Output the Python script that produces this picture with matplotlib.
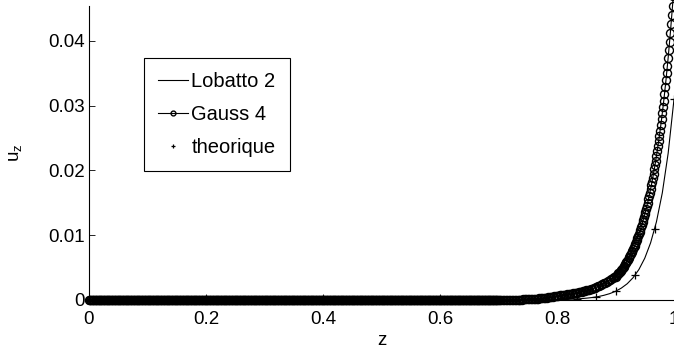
import numpy as np
import matplotlib
matplotlib.use('Agg')
import matplotlib.pyplot as plt

plt.rcParams['font.family'] = ['Liberation Sans', 'DejaVu Sans']
plt.rcParams['mathtext.fontset'] = 'custom'
plt.rcParams['mathtext.rm'] = 'Liberation Sans'
plt.rcParams['mathtext.it'] = 'Liberation Sans'

# Lobatto 2 (ligne continue)
lobatto_z = [0.0, 0.79, 0.80, 0.81, 0.82, 0.83, 0.84, 0.85, 0.86, 0.87, 0.88, 0.89,
             0.90, 0.91, 0.92, 0.93, 0.94, 0.95, 0.96, 0.97, 0.98, 0.99, 1.00]
lobatto_u = [0.0, 0.0, 0.00006, 0.00008, 0.00011, 0.00015, 0.00020, 0.00028, 0.00038,
             0.00052, 0.00072, 0.00098, 0.00134, 0.00184, 0.00251, 0.00344, 0.00471,
             0.00645, 0.00883, 0.01208, 0.01654, 0.02265, 0.0310]

# theorique, 31 points (k/30)
theo_z = np.arange(31) / 30.0
theo_u = [0.0] * 22 + [0.00001, 0.00002, 0.00006, 0.00016, 0.00047, 0.00133,
                       0.0038, 0.0109, 0.0310]

# Gauss 4 : partie plate (nulle) puis montee
gauss_z_plat = np.arange(560) * 0.00125
gauss_u_plat = np.zeros(len(gauss_z_plat))

gauss_z_bas = np.round(0.7 + np.arange(80) * 0.0025, 4)
gauss_u_bas = [0.00001, 0.00001, 0.00001, 0.00001, 0.00002, 0.00002, 0.00002, 0.00002,
               0.00003, 0.00003, 0.00003, 0.00004, 0.00004, 0.00005, 0.00005, 0.00006,
               0.00007, 0.00008, 0.00009, 0.00010, 0.00011, 0.00012, 0.00013, 0.00015,
               0.00016, 0.00018, 0.00020, 0.00022, 0.00024, 0.00027, 0.00029, 0.00032,
               0.00035, 0.00038, 0.00041, 0.00045, 0.00048, 0.00052, 0.00056, 0.00060,
               0.00064, 0.00068, 0.00070, 0.00073, 0.00076, 0.00080, 0.00083, 0.00086,
               0.00089, 0.00093, 0.00097, 0.00101, 0.00105, 0.00110, 0.00115, 0.00120,
               0.00125, 0.00130, 0.00136, 0.00142, 0.00148, 0.00154, 0.00161, 0.00168,
               0.00175, 0.00183, 0.00192, 0.00201, 0.00211, 0.00221, 0.00232, 0.00243,
               0.00255, 0.00267, 0.00280, 0.00294, 0.00308, 0.00323, 0.00339, 0.00355]

gauss_z_haut = np.round(0.9 + np.arange(81) * 0.00125, 5)
gauss_u_haut = [0.00360, 0.00372, 0.00384, 0.00397, 0.00410, 0.00423, 0.00437, 0.00452,
                0.00467, 0.00482, 0.00498, 0.00515, 0.00532, 0.00549, 0.00567, 0.00586,
                0.00605, 0.00625, 0.00646, 0.00668, 0.00690, 0.00713, 0.00736, 0.00760,
                0.00785, 0.00811, 0.00838, 0.00866, 0.00895, 0.00925, 0.00955, 0.00987,
                0.01019, 0.01053, 0.01087, 0.01123, 0.01160, 0.01198, 0.01238, 0.01279,
                0.01321, 0.01365, 0.01410, 0.01457, 0.01505, 0.01555, 0.01606, 0.01659,
                0.01714, 0.01771, 0.01829, 0.01890, 0.01952, 0.02017, 0.02083, 0.02152,
                0.02223, 0.02296, 0.02372, 0.02451, 0.02532, 0.02616, 0.02702, 0.02791,
                0.02883, 0.02978, 0.03077, 0.03179, 0.03284, 0.03393, 0.03504, 0.03620,
                0.03740, 0.03864, 0.03991, 0.04123, 0.04259, 0.04400, 0.04545, 0.04695,
                0.0485]

gauss_z = np.concatenate([gauss_z_plat, gauss_z_bas, gauss_z_haut])
gauss_u = np.concatenate([gauss_u_plat, gauss_u_bas, gauss_u_haut])

fig = plt.figure(figsize=(6.74, 3.51), dpi=100)
ax = fig.add_axes([89 / 674, 51 / 351, 585 / 674, 294 / 351])

ax.plot(lobatto_z, lobatto_u, '-', color='k', lw=0.8, label='Lobatto 2')
ax.plot(gauss_z, gauss_u, '-o', color='k', lw=0.8, ms=5.8, mew=1.0, mfc='none',
        label='Gauss 4', clip_on=False)
ax.plot(theo_z, theo_u, '+', color='k', ms=6, mew=0.9, label='theorique')

ax.set_xlim(0, 1)
ax.set_ylim(0, 0.0454)
ax.set_xticks([0, 0.2, 0.4, 0.6, 0.8, 1])
ax.set_xticklabels(['0', '0.2', '0.4', '0.6', '0.8', '1'])
ax.set_yticks([0, 0.01, 0.02, 0.03, 0.04])
ax.set_yticklabels(['0', '0.01', '0.02', '0.03', '0.04'])
ax.spines['top'].set_visible(False)
ax.spines['right'].set_visible(False)
for s in ['left', 'bottom']:
    ax.spines[s].set_linewidth(0.8)
ax.tick_params(direction='in', length=4, width=0.6, labelsize=13.5)
ax.tick_params(axis='x', pad=8)
ax.tick_params(axis='y', pad=3)

ax.set_xlabel('z', fontsize=13.5, labelpad=3)
ax.set_ylabel(r'$\mathregular{u_z}$', fontsize=13.5, labelpad=17)

leg = ax.legend(loc='upper left', bbox_to_anchor=(0.094, 0.823), borderaxespad=0,
                fontsize=14.5, fancybox=False, framealpha=1, edgecolor='k',
                handlelength=1.5, handletextpad=0.15, labelspacing=0.7,
                borderpad=0.7, markerscale=0.6)
leg.get_frame().set_linewidth(0.8)

fig.savefig('out.png', dpi=100)
